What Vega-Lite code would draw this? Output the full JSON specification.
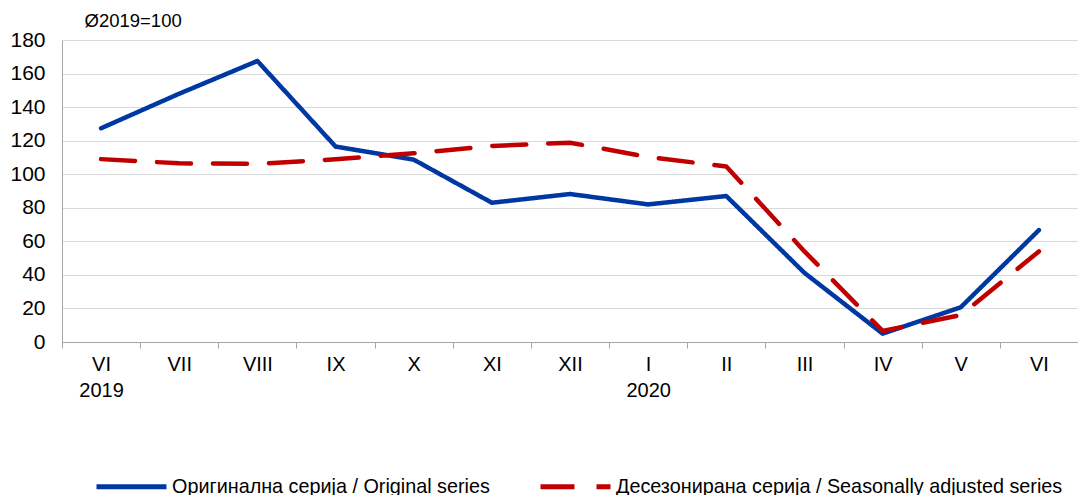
{
  "$schema": "https://vega.github.io/schema/vega-lite/v6.json",
  "autosize": {"type": "none"},
  "padding": {"left": 62, "top": 40, "right": 0, "bottom": 153},
  "width": 1016,
  "height": 302,
  "background": "white",
  "config": {
    "view": {"stroke": null},
    "font": "Liberation Sans",
    "axis": {"labelFont": "Liberation Sans", "titleFont": "Liberation Sans", "labelColor": "#000000", "titleColor": "#000000"},
    "legend": {"labelFont": "Liberation Sans"}
  },
  "data": {
    "values": [
      {"m": "VI|2019", "s": "Оригинална серија / Original series", "v": 127.4},
      {"m": "VII", "s": "Оригинална серија / Original series", "v": 148},
      {"m": "VIII", "s": "Оригинална серија / Original series", "v": 167.5},
      {"m": "IX", "s": "Оригинална серија / Original series", "v": 116.5},
      {"m": "X", "s": "Оригинална серија / Original series", "v": 108.7},
      {"m": "XI", "s": "Оригинална серија / Original series", "v": 83},
      {"m": "XII", "s": "Оригинална серија / Original series", "v": 88.2},
      {"m": "I|2020", "s": "Оригинална серија / Original series", "v": 82},
      {"m": "II", "s": "Оригинална серија / Original series", "v": 87},
      {"m": "III", "s": "Оригинална серија / Original series", "v": 41.2},
      {"m": "IV", "s": "Оригинална серија / Original series", "v": 5},
      {"m": "V", "s": "Оригинална серија / Original series", "v": 20.7},
      {"m": "VI", "s": "Оригинална серија / Original series", "v": 66.7},
      {"m": "VI|2019", "s": "Десезонирана серија / Seasonally adjusted series", "v": 109},
      {"m": "VII", "s": "Десезонирана серија / Seasonally adjusted series", "v": 106.5},
      {"m": "VIII", "s": "Десезонирана серија / Seasonally adjusted series", "v": 106.2},
      {"m": "IX", "s": "Десезонирана серија / Seasonally adjusted series", "v": 108.9},
      {"m": "X", "s": "Десезонирана серија / Seasonally adjusted series", "v": 112.5},
      {"m": "XI", "s": "Десезонирана серија / Seasonally adjusted series", "v": 116.8},
      {"m": "XII", "s": "Десезонирана серија / Seasonally adjusted series", "v": 118.8},
      {"m": "I|2020", "s": "Десезонирана серија / Seasonally adjusted series", "v": 110.3},
      {"m": "II", "s": "Десезонирана серија / Seasonally adjusted series", "v": 104.6},
      {"m": "III", "s": "Десезонирана серија / Seasonally adjusted series", "v": 54},
      {"m": "IV", "s": "Десезонирана серија / Seasonally adjusted series", "v": 6.6},
      {"m": "V", "s": "Десезонирана серија / Seasonally adjusted series", "v": 16},
      {"m": "VI", "s": "Десезонирана серија / Seasonally adjusted series", "v": 54}
    ]
  },
  "mark": {"type": "line", "strokeWidth": 4.5, "strokeCap": "round", "strokeJoin": "round"},
  "encoding": {
    "x": {
      "field": "m",
      "type": "ordinal",
      "scale": {"type": "band", "paddingInner": 0, "paddingOuter": 0,
        "domain": ["VI|2019", "VII", "VIII", "IX", "X", "XI", "XII", "I|2020", "II", "III", "IV", "V", "VI"]},
      "axis": {
        "title": null,
        "labelAngle": 0,
        "labelExpr": "isString(datum.value) ? split(datum.value, '|') : ''",
        "labelFontSize": 20,
        "labelLineHeight": 26,
        "labelPadding": 6,
        "tickBand": "extent",
        "tickSize": 6,
        "tickColor": "#a6a6a6",
        "domainColor": "#a6a6a6",
        "grid": false
      }
    },
    "y": {
      "field": "v",
      "type": "quantitative",
      "scale": {"domain": [0, 180], "nice": false},
      "axis": {
        "values": [0, 20, 40, 60, 80, 100, 120, 140, 160, 180],
        "title": "Ø2019=100",
        "titleAngle": 0,
        "titleAlign": "left",
        "titleBaseline": "alphabetic",
        "titleX": 22,
        "titleY": -14,
        "titleFontSize": 18.5,
        "titleFontWeight": "normal",
        "labelFontSize": 21,
        "labelPadding": 17,
        "ticks": false,
        "domainColor": "#a6a6a6",
        "gridColor": "#d9d9d9",
        "gridWidth": 1.2
      }
    },
    "color": {
      "field": "s",
      "type": "nominal",
      "scale": {
        "domain": ["Оригинална серија / Original series", "Десезонирана серија / Seasonally adjusted series"],
        "range": ["#0038A3", "#C00000"]
      },
      "legend": {
        "title": null,
        "orient": "none",
        "direction": "horizontal",
        "legendX": 32,
        "legendY": 409,
        "symbolType": "stroke",
        "symbolSize": 4900,
        "symbolStrokeWidth": 5,
        "labelFontSize": 19.8,
        "labelOffset": 3,
        "columnPadding": 40,
        "labelLimit": 600
      }
    },
    "strokeDash": {
      "field": "s",
      "type": "nominal",
      "scale": {
        "domain": ["Оригинална серија / Original series", "Десезонирана серија / Seasonally adjusted series"],
        "range": [[1, 0], [34, 22]]
      },
      "legend": null
    }
  }
}
